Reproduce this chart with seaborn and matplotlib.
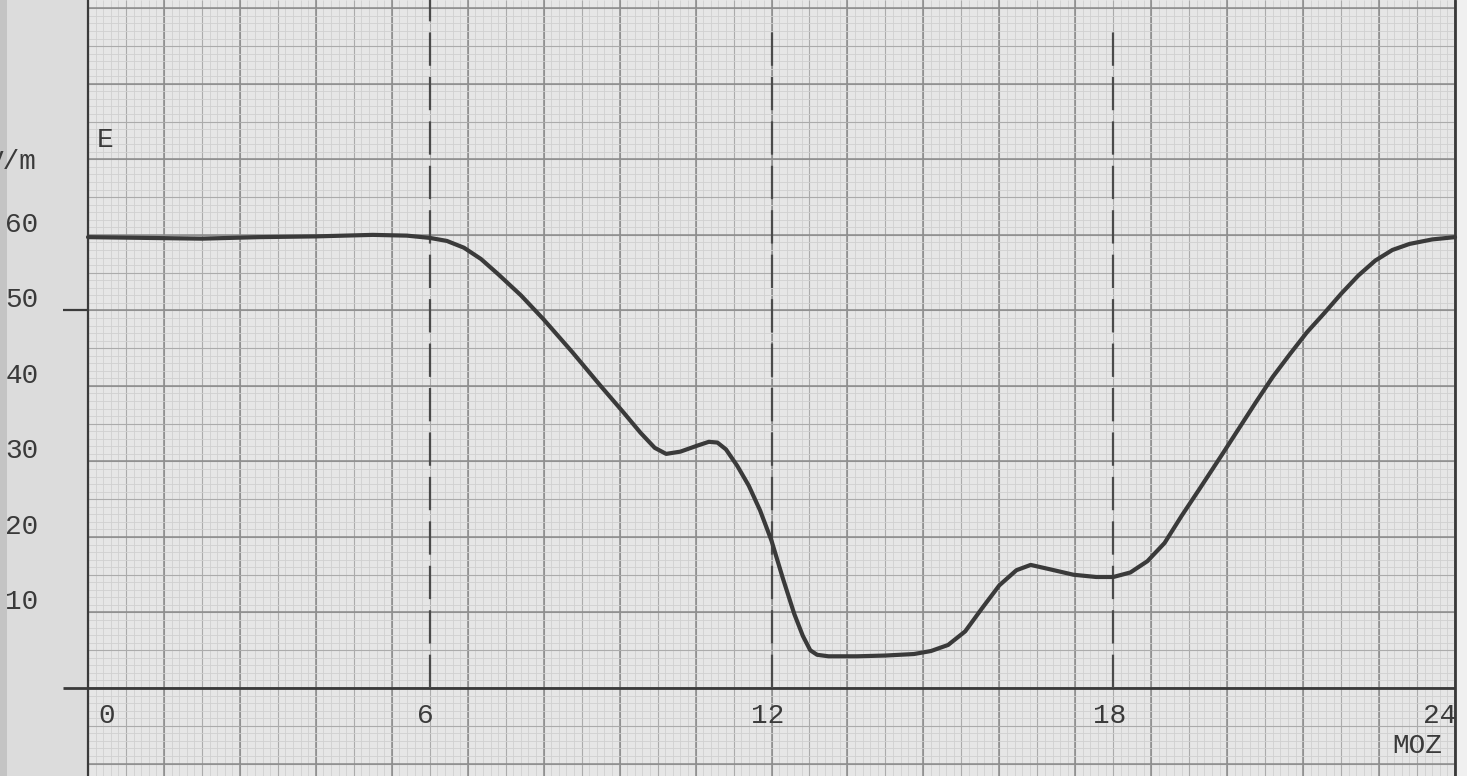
import numpy as np
import matplotlib
matplotlib.use("Agg")
import matplotlib.pyplot as plt
import seaborn as sns

# field strength E (V/m) against local time (MOZ)
hours = [0.0, 1.0, 2.0, 3.0, 4.0, 5.0, 5.6, 6.0, 6.3, 6.6, 6.9, 7.2, 7.6, 8.0,
         8.5, 9.0, 9.4, 9.7, 9.95, 10.15, 10.4, 10.7, 10.9, 11.05, 11.2, 11.4,
         11.6, 11.8, 12.0, 12.2, 12.4, 12.55, 12.68, 12.8, 13.0, 13.5, 14.0,
         14.5, 14.8, 15.1, 15.4, 15.7, 16.0, 16.3, 16.55, 16.9, 17.3, 17.7,
         18.0, 18.3, 18.6, 18.9, 19.2, 19.5, 19.9, 20.2, 20.5, 20.8, 21.1,
         21.4, 21.7, 22.0, 22.3, 22.6, 22.9, 23.2, 23.6, 24.0]
field = [59.7, 59.6, 59.5, 59.7, 59.8, 60.0, 59.9, 59.6, 59.2, 58.3, 56.8,
         54.8, 52.0, 48.8, 44.5, 40.0, 36.5, 33.8, 31.8, 31.0, 31.3, 32.1,
         32.6, 32.5, 31.6, 29.4, 26.8, 23.5, 19.5, 14.5, 9.8, 6.9, 5.0, 4.4,
         4.2, 4.2, 4.3, 4.5, 4.9, 5.7, 7.5, 10.6, 13.6, 15.6, 16.3, 15.7, 15.0,
         14.7, 14.7, 15.3, 16.8, 19.2, 22.8, 26.2, 30.8, 34.3, 37.8, 41.2,
         44.2, 47.1, 49.6, 52.2, 54.6, 56.6, 58.0, 58.8, 59.4, 59.7]

xticks = [0, 6, 12, 18, 24]
yticks = [10, 20, 30, 40, 50, 60]
marked_hours = [6, 12, 18]

sns.set_theme(style="white")
plt.rcParams['font.family'] = ['Liberation Mono', 'DejaVu Sans Mono']
plt.rcParams['lines.scale_dashes'] = False

paper = "#e6e6e6"
ink = "#3a3a3a"

fig = plt.figure(figsize=(14.67, 7.76), dpi=100, facecolor=paper)
ax = fig.add_axes([0, 0, 1, 1])
ax.set_axis_off()
x0, x1 = -1.545, 24.21
y0, y1 = -11.65, 91.1
ax.set_xlim(x0, x1)
ax.set_ylim(y0, y1)

# graph paper: 1 cm = 4/3 h horizontally, 10 V/m vertically
for step, col, lw in [(4 / 30, "#d0d0d0", 0.6), (2 / 3, "#ababab", 0.8), (4 / 3, "#8a8a8a", 1.1)]:
    ax.vlines(np.arange(0, 24.001, step), y0, y1, color=col, lw=lw, zorder=1)
for step, col, lw in [(1, "#d0d0d0", 0.6), (5, "#ababab", 0.8), (10, "#8a8a8a", 1.1)]:
    ax.hlines(np.arange(-10, 91, step), 0, 24, color=col, lw=lw, zorder=1)

# blank margins of the sheet
ax.axvspan(x0, 0, color="#dcdcdc", lw=0, zorder=2)
ax.axvspan(x0, x0 + 0.12, color="#c4c4c4", lw=0, zorder=2)
ax.axvspan(24, x1, color="#f0f0f0", lw=0, zorder=2)

# axes drawn on the sheet
ax.axvline(0, color=ink, lw=1.6, zorder=3)
ax.axvline(24, color=ink, lw=2.0, zorder=3)
ax.hlines(0, -0.44, 24, color=ink, lw=2.0, zorder=3)
ax.hlines(50, -0.44, 0, color=ink, lw=1.6, zorder=3)

for h in marked_hours:
    top = y1 if h == 6 else 87.2
    ax.vlines(h, 0, top, color="#4a4a4a", lw=1.6, linestyles=(0, (24, 8)), zorder=3)

sns.lineplot(x=hours, y=field, ax=ax, color=ink, lw=3.0, zorder=4)

fs = 20
for v in yticks:
    ax.text(-1.16, v + 1.35, str(v), ha="center", va="center", fontsize=fs, color=ink)
ax.text(-0.9, 69.7, "V/m", ha="right", va="center", fontsize=fs, color=ink)
ax.text(0.16, 72.6, "E", ha="left", va="center", fontsize=fs, color=ink)

for h in xticks:
    ha = "left" if h == 0 else ("right" if h == 24 else "center")
    xpos = 0.18 if h == 0 else (24.03 if h == 24 else h - 0.07)
    ax.text(xpos, -3.7, str(h), ha=ha, va="center", fontsize=fs, color=ink)
ax.text(23.77, -7.7, "MOZ", ha="right", va="center", fontsize=fs, color=ink)

fig.savefig("out.png", dpi=100, facecolor=paper)
